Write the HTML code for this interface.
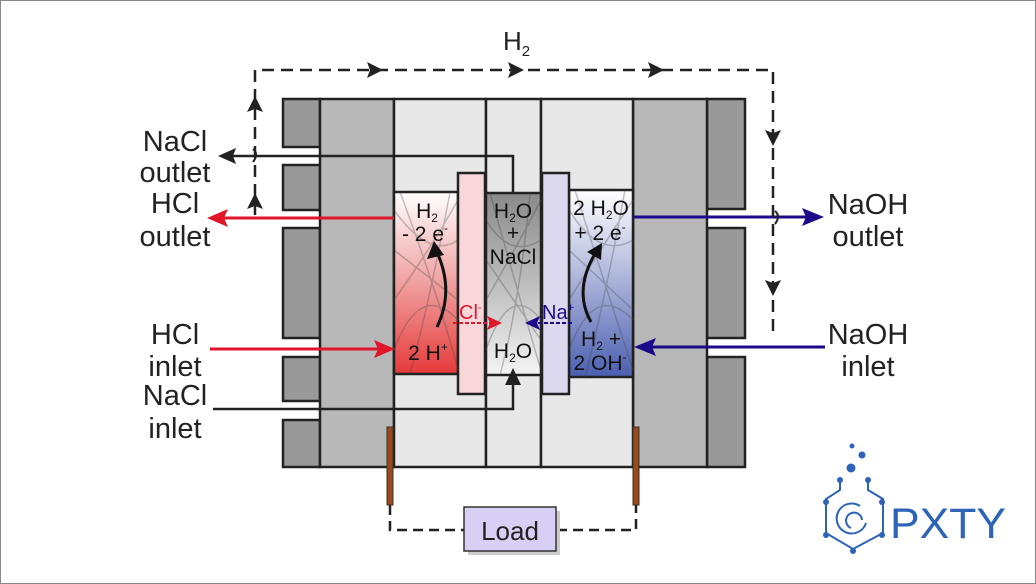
<!DOCTYPE html>
<html><head><meta charset="utf-8"><style>
html,body{margin:0;padding:0;background:#fff}
svg{display:block}
text{font-family:"Liberation Sans",Arial,sans-serif}
</style></head><body>
<svg width="1036" height="584" viewBox="0 0 1036 584" xmlns="http://www.w3.org/2000/svg">
<defs>
<linearGradient id="gr" x1="0" y1="0" x2="0" y2="1"><stop offset="0" stop-color="#fff"/><stop offset="0.5" stop-color="#f0a0a0"/><stop offset="1" stop-color="#e63a3a"/></linearGradient>
<linearGradient id="gb" x1="0" y1="0" x2="0" y2="1"><stop offset="0" stop-color="#fff"/><stop offset="0.5" stop-color="#a8b0d8"/><stop offset="1" stop-color="#4a5fb0"/></linearGradient>
<linearGradient id="gg" x1="0" y1="0" x2="0" y2="1"><stop offset="0" stop-color="#8a8a8a"/><stop offset="0.5" stop-color="#bdbdbd"/><stop offset="1" stop-color="#f4f4f4"/></linearGradient>
</defs>
<rect x="0.5" y="0.5" width="1035" height="583" fill="#fff" stroke="#888"/>
<g stroke="#222" stroke-width="2.5">
<rect x="283" y="99" width="37" height="48" fill="#999"/>
<rect x="283" y="165" width="37" height="45" fill="#999"/>
<rect x="283" y="228" width="37" height="110" fill="#999"/>
<rect x="283" y="357" width="37" height="44" fill="#999"/>
<rect x="283" y="420" width="37" height="47" fill="#999"/>
<rect x="707" y="99" width="38" height="110" fill="#999"/>
<rect x="707" y="228" width="38" height="110" fill="#999"/>
<rect x="707" y="357" width="38" height="110" fill="#999"/>
<rect x="320" y="99" width="74" height="368" fill="#b8b8b8"/>
<rect x="633" y="99" width="74" height="368" fill="#b8b8b8"/>
<rect x="394" y="99" width="92" height="368" fill="#e8e8e8"/>
<rect x="486" y="99" width="55" height="368" fill="#e8e8e8"/>
<rect x="541" y="99" width="92" height="368" fill="#e8e8e8"/>
<rect x="394" y="192" width="64" height="182" fill="url(#gr)"/>
<rect x="486" y="193" width="55" height="182" fill="url(#gg)"/>
<rect x="569" y="190" width="64" height="187" fill="url(#gb)"/>
<rect x="458" y="173" width="27" height="221" fill="#f8d6da"/>
<rect x="542" y="173" width="27" height="221" fill="#dcd8f0"/>
</g>
<g stroke="#444" stroke-width="1.5" opacity="0.3" fill="none">
<path d="M394,210 Q430,260 458,240 M400,192 Q440,300 458,370 M394,300 Q430,250 458,200 M394,350 Q420,280 458,320 M410,374 Q430,300 450,192 M394,250 L458,300"/>
<path d="M486,220 Q510,260 541,240 M490,193 Q520,300 541,370 M486,300 Q515,250 541,200 M486,350 Q510,280 541,320 M500,375 Q520,300 530,193 M486,260 L541,340"/>
<path d="M569,210 Q600,260 633,240 M575,190 Q610,300 633,370 M569,300 Q600,250 633,200 M569,350 Q595,280 633,320 M585,377 Q605,300 625,190 M569,250 L633,310"/>
</g>
<path d="M320,156 H513 V193" stroke="#222" stroke-width="2.5" fill="none"/>
<path d="M320,409 H513 V376" stroke="#222" stroke-width="2.5" fill="none"/>
<path d="M320,156 H225" stroke="#222" stroke-width="2.5"/>
<polygon points="218,156 236,148 233,156 236,164" fill="#222"/>
<path d="M213,409 H320" stroke="#222" stroke-width="2.5"/>
<polygon points="513,368 505,385 521,385" fill="#222"/>
<path d="M394,218 H215" stroke="#e0162b" stroke-width="3"/>
<polygon points="207,218 228,209 224,218 228,227" fill="#e0162b"/>
<path d="M210,349 H380" stroke="#e0162b" stroke-width="3"/>
<polygon points="395,349 374,340 378,349 374,358" fill="#e0162b"/>
<path d="M633,217 H810" stroke="#1d0a8a" stroke-width="3"/>
<polygon points="824,217 802,208 806,217 802,226" fill="#1d0a8a"/>
<path d="M825,347 H648" stroke="#1d0a8a" stroke-width="3"/>
<polygon points="634,347 656,338 652,347 656,356" fill="#1d0a8a"/>
<g stroke="#222" stroke-width="2.5" fill="none" stroke-dasharray="12,7">
<path d="M255,215 V70 H773 V335"/>
</g>
<path d="M253,149 q6,5 0,13" stroke="#222" stroke-width="2" fill="none"/>
<path d="M775,211 q6,5 0,13" stroke="#222" stroke-width="2" fill="none"/>
<g fill="#222">
<polygon points="383,70 367,62 370,70 367,78"/>
<polygon points="524,70 508,62 511,70 508,78"/>
<polygon points="664,70 648,62 651,70 648,78"/>
<polygon points="255,96 247,112 255,109 263,112"/>
<polygon points="255,193 247,209 255,206 263,209"/>
<polygon points="773,146 765,130 773,133 781,130"/>
<polygon points="773,296 765,280 773,283 781,280"/>
</g>
<path d="M437,327 Q455,290 436,250" stroke="#111" stroke-width="3" fill="none"/>
<polygon points="434,241 427,259 444,255" fill="#111"/>
<path d="M591,322 Q573,290 596,252" stroke="#111" stroke-width="3" fill="none"/>
<polygon points="602,243 587,252 601,260" fill="#111"/>
<path d="M453,323 H492" stroke="#e0162b" stroke-width="2" stroke-dasharray="4,2"/>
<polygon points="502,323 487,316 490,323 487,330" fill="#e0162b"/>
<path d="M572,323 H535" stroke="#1d0a8a" stroke-width="2" stroke-dasharray="4,2"/>
<polygon points="525,323 540,316 537,323 540,330" fill="#1d0a8a"/>
<rect x="387" y="427" width="6" height="78" fill="#9a4a1a" stroke="#333"/>
<rect x="633" y="427" width="6" height="78" fill="#9a4a1a" stroke="#333"/>
<path d="M390,505 V530 H636 V505" stroke="#222" stroke-width="2.5" fill="none" stroke-dasharray="10,6"/>
<rect x="468" y="511" width="92" height="44" fill="#ccc" />
<rect x="464" y="507" width="92" height="44" fill="#d8d0f4" stroke="#333" stroke-width="1.5"/>
<text x="510" y="540" font-size="26" text-anchor="middle" fill="#222">Load</text>
<g fill="#222" font-size="29" text-anchor="middle">
<text x="175" y="151">NaCl</text><text x="175" y="182">outlet</text>
<text x="175" y="213">HCl</text><text x="175" y="246">outlet</text>
<text x="175" y="344">HCl</text><text x="175" y="376">inlet</text>
<text x="175" y="405">NaCl</text><text x="175" y="438">inlet</text>
<text x="868" y="214">NaOH</text><text x="868" y="246">outlet</text>
<text x="868" y="344">NaOH</text><text x="868" y="376">inlet</text>
</g>
<text x="503" y="50" font-size="26" fill="#222">H<tspan font-size="15" dy="6">2</tspan></text>
<g fill="#111" font-size="21" text-anchor="middle">
<text x="427" y="218">H<tspan font-size="12" dy="4">2</tspan></text>
<text x="425" y="241">- 2 e<tspan font-size="12" dy="-9">-</tspan></text>
<text x="428" y="360">2 H<tspan font-size="12" dy="-9">+</tspan></text>
<text x="513" y="218">H<tspan font-size="12" dy="4">2</tspan><tspan dy="-4">O</tspan></text>
<text x="513" y="240">+</text>
<text x="513" y="264">NaCl</text>
<text x="513" y="358">H<tspan font-size="12" dy="4">2</tspan><tspan dy="-4">O</tspan></text>
<text x="601" y="215">2 H<tspan font-size="12" dy="4">2</tspan><tspan dy="-4">O</tspan></text>
<text x="600" y="240">+ 2 e<tspan font-size="12" dy="-9">-</tspan></text>
<text x="601" y="346">H<tspan font-size="12" dy="4">2</tspan><tspan dy="-4"> +</tspan></text>
<text x="600" y="370">2 OH<tspan font-size="12" dy="-9">-</tspan></text>
</g>
<text x="459" y="319" font-size="20" fill="#e0162b">Cl<tspan font-size="11" dy="-8">-</tspan></text>
<text x="542" y="319" font-size="20" fill="#1d0a8a">Na<tspan font-size="11" dy="-8">+</tspan></text>
<g fill="#2d64b8" stroke="#2d64b8">
<circle cx="852" cy="446" r="2.5" stroke="none"/>
<circle cx="862" cy="455" r="3.5" stroke="none"/>
<circle cx="851" cy="468" r="4.5" stroke="none"/>
<path d="M840,480 V490 L826,499 V533 L853,549 L883,533 V499 L868,490 V480" fill="none" stroke-width="2"/>
<circle cx="840" cy="480" r="3" stroke="none"/><circle cx="868" cy="480" r="3" stroke="none"/>
<circle cx="826" cy="502" r="3" stroke="none"/><circle cx="882" cy="502" r="3" stroke="none"/>
<circle cx="826" cy="535" r="3" stroke="none"/><circle cx="882" cy="535" r="3" stroke="none"/>
<circle cx="853" cy="551" r="3" stroke="none"/>
<path d="M866,523 A15,15 0 1 1 860,506 M851,528 A8,8 0 1 1 862,520" fill="none" stroke-width="2"/>
</g>
<text x="890" y="538" font-size="43" fill="#2d64b8" textLength="116" lengthAdjust="spacingAndGlyphs">PXTY</text>
</svg>
</body></html>
